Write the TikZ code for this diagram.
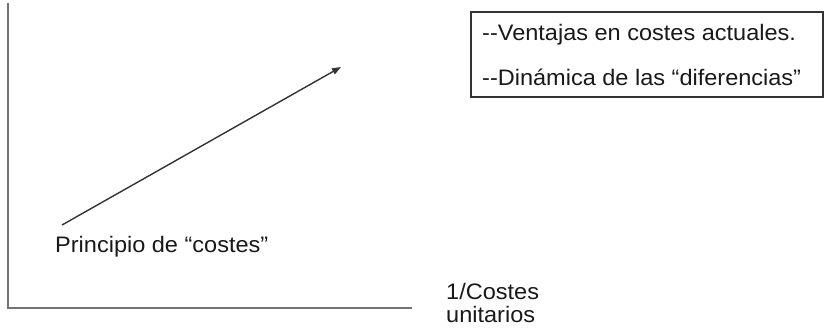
\documentclass[tikz,border=0pt]{standalone}
\usepackage{fontspec}
\setmainfont{Liberation Sans}
\newfontfamily\lblfont[FakeStretch=1.05]{Liberation Sans}
\usetikzlibrary{arrows.meta}
\begin{document}
\begin{tikzpicture}[x=1pt,y=-1pt,
  lbl/.style={font=\lblfont\fontsize{22.4}{24}\selectfont, text=black!90, inner sep=0pt, anchor=base west},
  axisline/.style={draw=black!55, line width=1.6pt},
  framebox/.style={draw=black!80, line width=1.8pt, minimum width=352pt, minimum height=85pt, inner sep=0pt},
  trend/.style={draw=black!80, line width=1.4pt, -{Triangle[length=9pt,width=6.5pt]}}]
\useasboundingbox (0,0) rectangle (826,329);
% axes
\coordinate (ytop) at (8,3);
\coordinate (origin) at (8,308);
\coordinate (xend) at (412,308);
\draw[axisline] (ytop) -- (origin) -- (xend);
% trend arrow
\coordinate (start) at (62,225);
\coordinate (tip) at (341,67);
\draw[trend] (start) -- (tip);
\node[lbl] (princ) at (55,252) {Principio de “costes”};
% x-axis label
\node[lbl] (xl1) at (446,299) {1/Costes};
\node[lbl] (xl2) at (446,322) {unitarios};
% box with the two points
\node[framebox] (box) at (647,54.5) {};
\node[lbl] (v1) at (482,41) {-{}-Ventajas en costes actuales.};
\node[lbl] (v2) at (482,85) {-{}-Dinámica de las “diferencias”};
\end{tikzpicture}
\end{document}
